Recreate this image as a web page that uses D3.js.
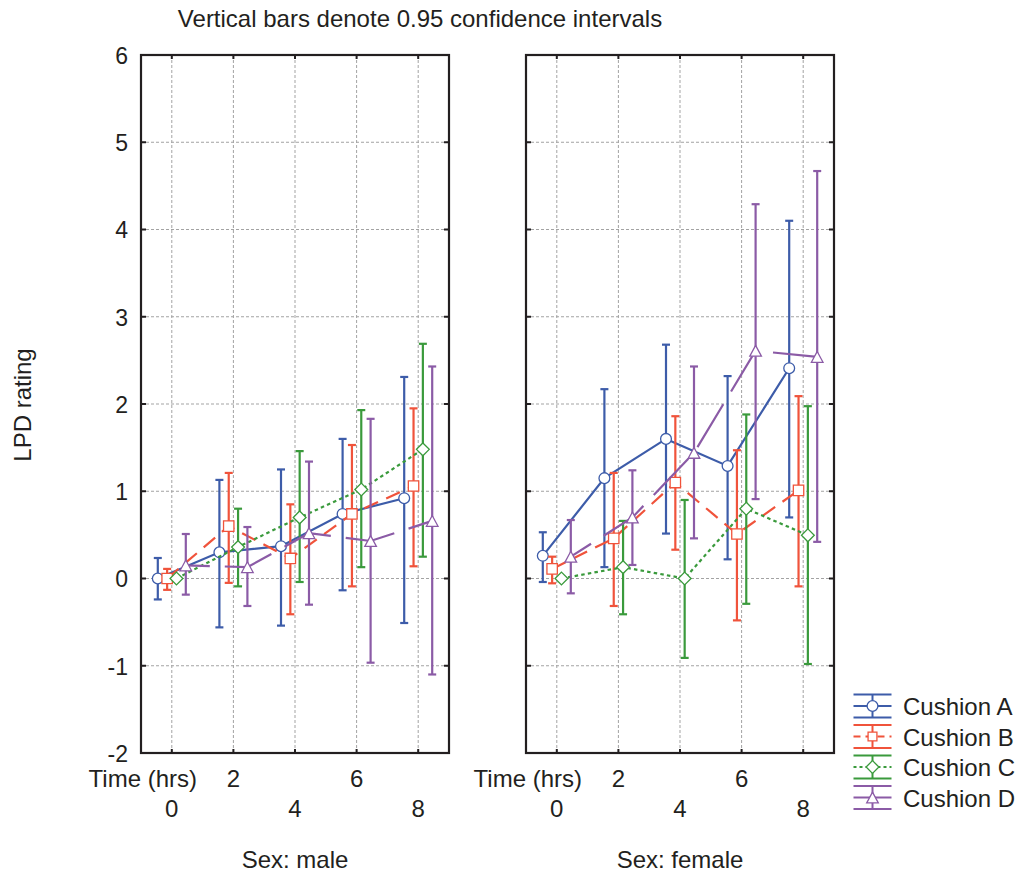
<!DOCTYPE html>
<html>
<head>
<meta charset="utf-8">
<script src="https://cdn.jsdelivr.net/npm/d3@7"></script>
<style>
  html, body { margin: 0; padding: 0; background: #fff; }
  svg { display: block; }
  text { font-family: "Liberation Sans", Arial, Helvetica, sans-serif; fill: #231f20; }
</style>
</head>
<body>
<script>
// LPD rating over time by cushion type, split by sex (means with 95% CIs)
const times = [0, 2, 4, 6, 8];
const series = ["Cushion A", "Cushion B", "Cushion C", "Cushion D"];
const sexes = ["male", "female"];
const yTicks = [-2, -1, 0, 1, 2, 3, 4, 5, 6];

// male
const maleMean = [
  [0.00, 0.30, 0.37, 0.74, 0.92],
  [0.00, 0.60, 0.23, 0.74, 1.06],
  [0.00, 0.36, 0.70, 1.02, 1.48],
  [0.15, 0.13, 0.52, 0.43, 0.66]
];
const maleLow = [
  [-0.24, -0.56, -0.54, -0.135, -0.51],
  [-0.13, -0.05, -0.41, -0.09, 0.14],
  [0.00, -0.09, -0.04, 0.13, 0.25],
  [-0.185, -0.315, -0.30, -0.965, -1.10]
];
const maleHigh = [
  [0.235, 1.13, 1.25, 1.60, 2.31],
  [0.11, 1.21, 0.85, 1.53, 1.95],
  [0.00, 0.80, 1.46, 1.93, 2.69],
  [0.51, 0.59, 1.34, 1.83, 2.43]
];

// female
const femaleMean = [
  [0.26, 1.15, 1.60, 1.29, 2.41],
  [0.11, 0.46, 1.10, 0.51, 1.01],
  [0.00, 0.13, 0.00, 0.80, 0.495],
  [0.25, 0.70, 1.44, 2.61, 2.54]
];
const femaleLow = [
  [-0.04, 0.13, 0.515, 0.22, 0.70],
  [-0.055, -0.315, 0.33, -0.48, -0.09],
  [0.00, -0.41, -0.91, -0.29, -0.98],
  [-0.17, 0.155, 0.46, 0.91, 0.42]
];
const femaleHigh = [
  [0.53, 2.17, 2.68, 2.32, 4.10],
  [0.25, 1.21, 1.86, 1.47, 2.09],
  [0.00, 0.66, 0.90, 1.88, 1.975],
  [0.67, 1.24, 2.43, 4.29, 4.67]
];

const panelData = {
  male: { mean: maleMean, low: maleLow, high: maleHigh },
  female: { mean: femaleMean, low: femaleLow, high: femaleHigh }
};

// styling
const colors = ["#3d5ca9", "#f0533b", "#3a9a3c", "#8b5ba6"];
const dashes = [null, "15,9", "3.5,3.2", "50,15"];
const dashOffsets = [0, 0, 0, 26];
const ink = "#231f20";

const W = 1025, H = 873;
const svg = d3.select("body").append("svg").attr("width", W).attr("height", H);

const plotTop = 55, plotBottom = 753, panelW = 308;
const panelLefts = [141, 526];

const y = d3.scaleLinear().domain([-2, 6]).range([plotBottom, plotTop]);
const off = d3.scalePoint().domain(series).range([-14, 14]);

// marker shapes
function markerPath(k, s) {
  if (k === 0) { // circle
    const r = 5.4 * s;
    return `M${r},0A${r},${r} 0 1,1 ${-r},0A${r},${r} 0 1,1 ${r},0Z`;
  }
  if (k === 1) { // square
    const h = 5.2 * s;
    return `M${-h},${-h}H${h}V${h}H${-h}Z`;
  }
  if (k === 2) { // diamond
    const h = 6.4 * s;
    return `M0,${-h}L${h},0L0,${h}L${-h},0Z`;
  }
  const w = 5.8 * s, h = 5.4 * s; // triangle
  return `M0,${-h}L${w},${h}L${-w},${h}Z`;
}

// title
svg.append("text")
  .attr("x", 420).attr("y", 27)
  .attr("text-anchor", "middle")
  .style("font-size", "24px")
  .text("Vertical bars denote 0.95 confidence intervals");

// y-axis title
svg.append("text")
  .attr("transform", "translate(31,405) rotate(-90)")
  .attr("text-anchor", "middle")
  .style("font-size", "24px")
  .text("LPD rating");

sexes.forEach((sex, p) => {
  const left = panelLefts[p], right = left + panelW;
  const x = d3.scalePoint().domain(times).range([left, right]).padding(0.5);
  const g = svg.append("g");
  const d = panelData[sex];

  // grid
  g.selectAll(".vgrid").data(times).enter().append("line")
    .attr("x1", t => x(t)).attr("x2", t => x(t))
    .attr("y1", plotTop).attr("y2", plotBottom)
    .attr("stroke", "#a3a3a3").attr("stroke-width", 1)
    .attr("stroke-dasharray", "3,2");
  g.selectAll(".hgrid").data(yTicks.filter(v => v > -2 && v < 6)).enter().append("line")
    .attr("x1", left).attr("x2", right)
    .attr("y1", v => y(v)).attr("y2", v => y(v))
    .attr("stroke", "#a3a3a3").attr("stroke-width", 1)
    .attr("stroke-dasharray", "3,2");

  // inward tick marks
  yTicks.forEach(v => {
    g.append("line").attr("x1", left).attr("x2", left + 5)
      .attr("y1", y(v)).attr("y2", y(v)).attr("stroke", ink).attr("stroke-width", 2);
    g.append("line").attr("x1", right - 5).attr("x2", right)
      .attr("y1", y(v)).attr("y2", y(v)).attr("stroke", ink).attr("stroke-width", 2);
  });
  times.forEach(t => {
    g.append("line").attr("x1", x(t)).attr("x2", x(t))
      .attr("y1", plotTop).attr("y2", plotTop + 4).attr("stroke", ink).attr("stroke-width", 2);
    g.append("line").attr("x1", x(t)).attr("x2", x(t))
      .attr("y1", plotBottom - 4).attr("y2", plotBottom).attr("stroke", ink).attr("stroke-width", 2);
  });

  // y tick labels on the first panel only
  if (p === 0) {
    const ax = g.append("g").attr("transform", `translate(${left},0)`)
      .call(d3.axisLeft(y).tickValues(yTicks).tickSize(0).tickPadding(13).tickFormat(v => String(v)));
    ax.select(".domain").remove();
    ax.attr("font-family", null).attr("font-size", null);
    ax.selectAll("text").style("font-size", "23px").attr("fill", ink)
      .attr("dy", "0.36em");
  }

  // x tick labels, staggered in two rows
  g.selectAll(".xlab").data(times).enter().append("text")
    .attr("x", t => x(t))
    .attr("y", (t, i) => i % 2 ? 787 : 817)
    .attr("text-anchor", "middle")
    .style("font-size", "24px")
    .text(t => t);
  g.append("text")
    .attr("x", left + 56).attr("y", 787)
    .attr("text-anchor", "end")
    .style("font-size", "24px")
    .text("Time (hrs)");
  g.append("text")
    .attr("x", (left + right) / 2).attr("y", 868)
    .attr("text-anchor", "middle")
    .style("font-size", "24px")
    .text("Sex: " + sex);

  // series
  series.forEach((s, k) => {
    const pts = times.map((t, i) => ({
      t, m: d.mean[k][i], lo: d.low[k][i], hi: d.high[k][i]
    }));
    const px = q => x(q.t) + off(s);
    const line = d3.line().x(px).y(q => y(q.m));
    const sg = g.append("g");
    sg.append("path").attr("d", line(pts))
      .attr("fill", "none").attr("stroke", colors[k]).attr("stroke-width", 2.2)
      .attr("stroke-dasharray", dashes[k])
      .attr("stroke-dashoffset", dashOffsets[k]);
    // error bars
    const eb = sg.selectAll(".eb").data(pts).enter().append("g");
    eb.append("line").attr("x1", px).attr("x2", px)
      .attr("y1", q => y(q.lo)).attr("y2", q => y(q.hi))
      .attr("stroke", colors[k]).attr("stroke-width", 2.2);
    eb.append("line").attr("x1", q => px(q) - 4).attr("x2", q => px(q) + 4)
      .attr("y1", q => y(q.hi)).attr("y2", q => y(q.hi))
      .attr("stroke", colors[k]).attr("stroke-width", 2.2);
    eb.append("line").attr("x1", q => px(q) - 4).attr("x2", q => px(q) + 4)
      .attr("y1", q => y(q.lo)).attr("y2", q => y(q.lo))
      .attr("stroke", colors[k]).attr("stroke-width", 2.2);
    // markers
    sg.selectAll(".mk").data(pts).enter().append("path")
      .attr("d", markerPath(k, 1))
      .attr("transform", q => `translate(${px(q)},${y(q.m)})`)
      .attr("fill", "#fff").attr("stroke", colors[k]).attr("stroke-width", 1.3);
  });

  // frame
  g.append("rect").attr("x", left).attr("y", plotTop)
    .attr("width", panelW).attr("height", plotBottom - plotTop)
    .attr("fill", "none").attr("stroke", ink).attr("stroke-width", 2.2);
});

// legend
const lg = svg.append("g");
series.forEach((s, k) => {
  const cy = 706 + 30.5 * k, cx = 872.5, hw = 19, hh = 11.5;
  const c = colors[k];
  const row = lg.append("g");
  row.append("line").attr("x1", cx - hw).attr("x2", cx + hw).attr("y1", cy - hh).attr("y2", cy - hh)
    .attr("stroke", c).attr("stroke-width", 2);
  row.append("line").attr("x1", cx - hw).attr("x2", cx + hw).attr("y1", cy + hh).attr("y2", cy + hh)
    .attr("stroke", c).attr("stroke-width", 2);
  row.append("line").attr("x1", cx).attr("x2", cx).attr("y1", cy - hh).attr("y2", cy + hh)
    .attr("stroke", c).attr("stroke-width", 2);
  row.append("line").attr("x1", cx - hw).attr("x2", cx + hw).attr("y1", cy).attr("y2", cy)
    .attr("stroke", c).attr("stroke-width", 2)
    .attr("stroke-dasharray", k === 1 ? "7,5" : (k === 2 ? "3,3" : null));
  row.append("path").attr("d", markerPath(k, k === 1 ? 0.85 : 1.0))
    .attr("transform", `translate(${cx},${cy})`)
    .attr("fill", "#fff").attr("stroke", c).attr("stroke-width", 1.3);
  row.append("text").attr("x", 903).attr("y", cy + 9)
    .style("font-size", "24px").text(s);
});
</script>
</body>
</html>
